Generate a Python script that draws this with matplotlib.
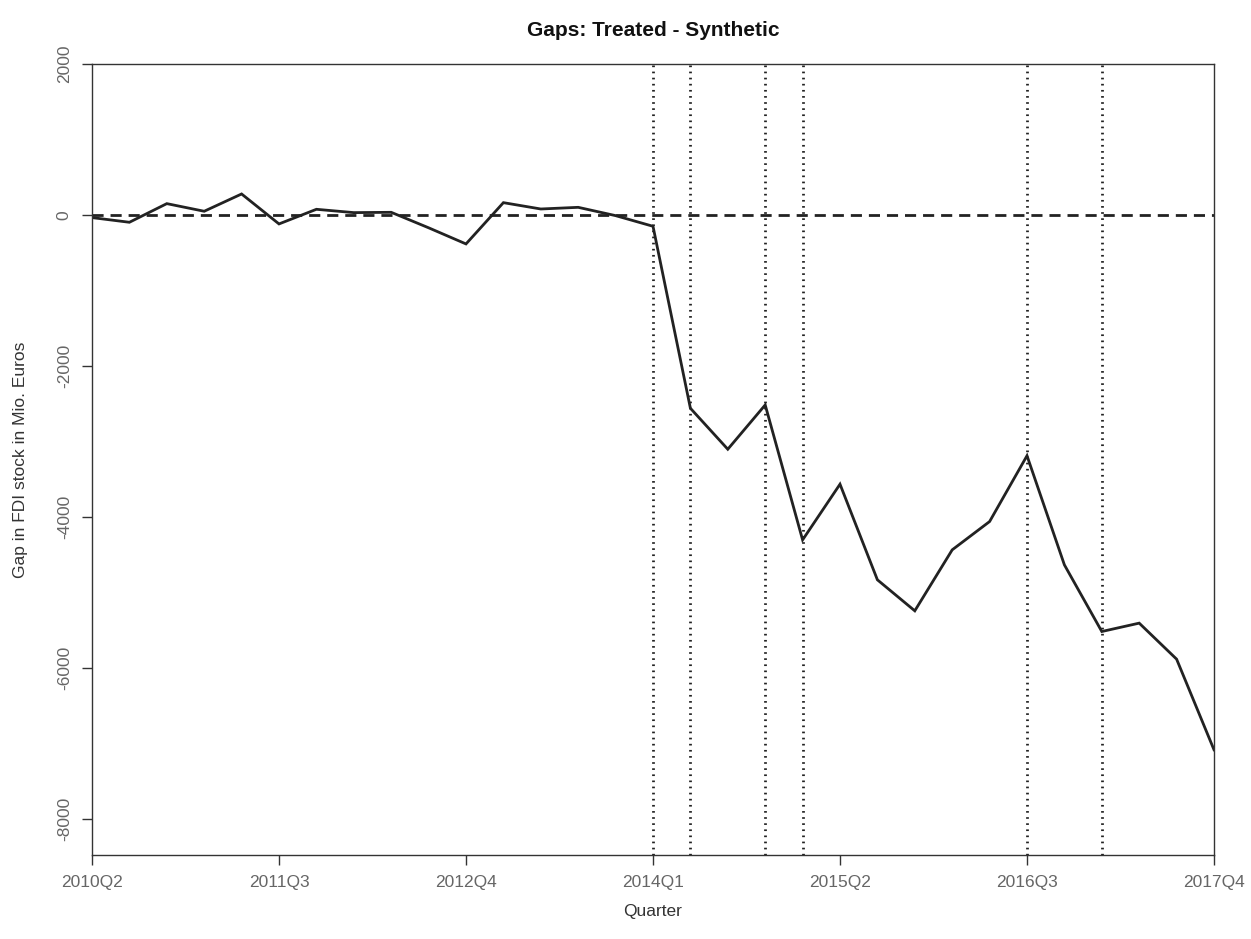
import matplotlib
matplotlib.use("Agg")
import matplotlib.pyplot as plt

plt.rcParams['font.family'] = ['Liberation Sans', 'DejaVu Sans']

quarters = ["2010Q2", "2010Q3", "2010Q4",
            "2011Q1", "2011Q2", "2011Q3", "2011Q4",
            "2012Q1", "2012Q2", "2012Q3", "2012Q4",
            "2013Q1", "2013Q2", "2013Q3", "2013Q4",
            "2014Q1", "2014Q2", "2014Q3", "2014Q4",
            "2015Q1", "2015Q2", "2015Q3", "2015Q4",
            "2016Q1", "2016Q2", "2016Q3", "2016Q4",
            "2017Q1", "2017Q2", "2017Q3", "2017Q4"]
gap = [-35, -97, 150, 49, 278, -119, 75, 31, 35, -170, -384, 163, 79, 101, -9,
       -150, -2561, -3104, -2517, -4305, -3567, -4834, -5245, -4437, -4062,
       -3190, -4636, -5519, -5408, -5885, -7086]
event_quarters = ["2014Q1", "2014Q2", "2014Q4", "2015Q1", "2016Q3", "2017Q1"]
xtick_labels = ["2010Q2", "2011Q3", "2012Q4", "2014Q1", "2015Q2", "2016Q3", "2017Q4"]
yticks = [-8000, -6000, -4000, -2000, 0, 2000]

W, H = 1251, 939
fig = plt.figure(figsize=(W / 100, H / 100), dpi=100)
ax = fig.add_axes([92 / W, 1 - 855 / H, (1214 - 92) / W, (855 - 64) / H])

x = list(range(len(quarters)))
ax.plot(x, gap, color='#222222', lw=2.0, solid_joinstyle='miter')
ax.axhline(0, color='#222222', lw=2.0, ls=(0, (4, 2.5)))
for q in event_quarters:
    ax.axvline(quarters.index(q), color='#222222', lw=2.0, ls=(0, (0.6, 1.6)))

ax.set_xlim(0, len(quarters) - 1)
ax.set_ylim(-8480, 2000)
ax.set_xticks([quarters.index(q) for q in xtick_labels])
ax.set_xticklabels(xtick_labels)
ax.set_yticks(yticks)
ax.set_yticklabels([str(v) for v in yticks], rotation=90, va='center')

for s in ax.spines.values():
    s.set_linewidth(1.0)
    s.set_color('#333333')
ax.tick_params(axis='both', length=7.5, width=1.0, color='#333333',
               labelsize=12.5, labelcolor='#666666')
ax.tick_params(axis='x', pad=7)
ax.tick_params(axis='y', pad=7)

ax.set_title("Gaps: Treated - Synthetic", fontsize=15, fontweight='bold', pad=20, color='#111111')
ax.set_xlabel("Quarter", fontsize=12.5, labelpad=10, color='#333333')
ax.set_ylabel("Gap in FDI stock in Mio. Euros", fontsize=12.5, labelpad=21, color='#333333')

fig.savefig("out.png", dpi=100, facecolor='white')
